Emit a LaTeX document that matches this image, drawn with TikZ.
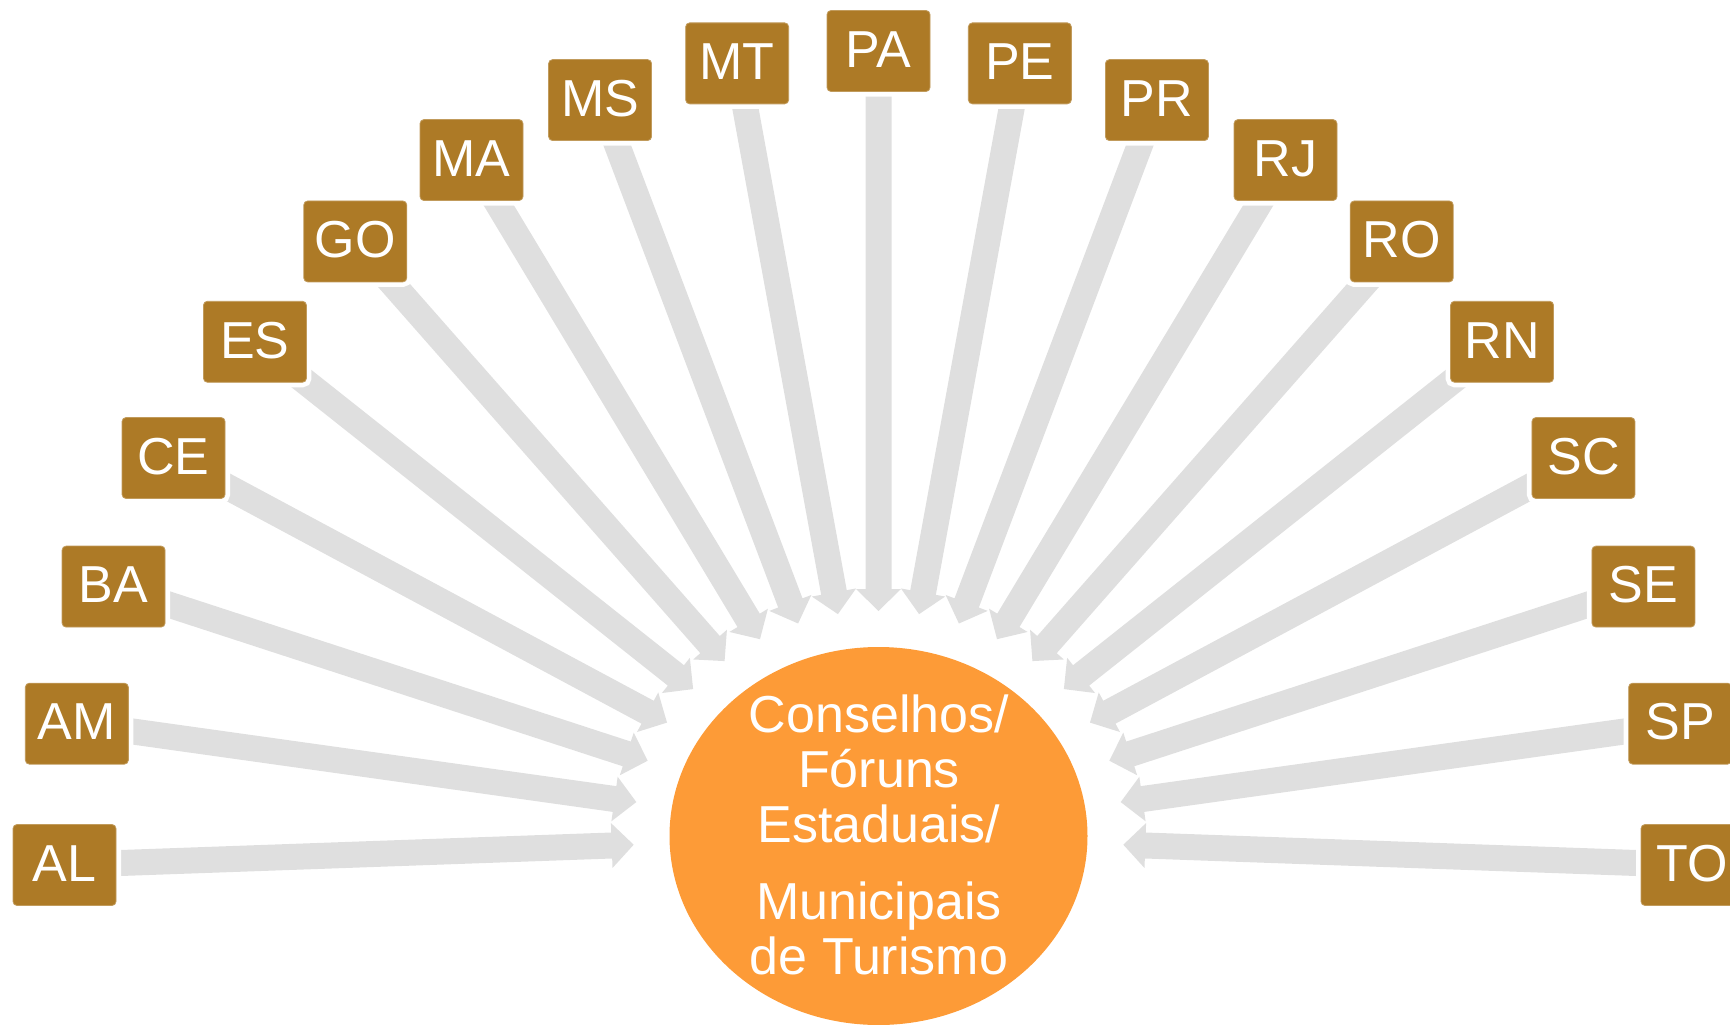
\documentclass[tikz,border=0pt]{standalone}
\usepackage{fontspec}
\setmainfont{Liberation Sans}
\usetikzlibrary{calc,shapes.geometric}
\pgfdeclarelayer{background}
\pgfsetlayers{background,main}
\definecolor{boxc}{RGB}{173,122,38}
\definecolor{orangec}{RGB}{253,155,55}
\definecolor{arrowc}{RGB}{223,223,223}
\tikzset{
  stbox/.style={rectangle, rounded corners=4pt, fill=boxc, draw=boxc!75!white, line width=0.8pt,
    preaction={draw=white, line width=10pt},
    minimum width=103pt, minimum height=81pt, inner sep=0pt, outer sep=0pt, text=white,
    font=\fontsize{52}{56}\selectfont, text height=37pt, text depth=4.5pt},
  hub/.style={ellipse, fill=orangec, minimum width=418pt, minimum height=378pt, inner sep=0pt, outer sep=0pt},
  hubtext/.style={text=white, font=\fontsize{52}{56}\selectfont, anchor=base, inner sep=0pt, outer sep=0pt},
  blockarrow/.style={fill=arrowc}
}
\begin{document}
\begin{tikzpicture}[x=1pt,y=-1pt]
\useasboundingbox (0,0) rectangle (1730,1025);
\coordinate (O) at (878.5,865);
\node[hub] (hub) at (878.5,836) {};
\node[hubtext] (t1) at (879,732.7) {Conselhos/};
\node[hubtext] (t2) at (879,787.7) {Fóruns};
\node[hubtext] (t3) at (879,842.7) {Estaduais/};
\node[hubtext] (t4) at (879,919.3) {Municipais};
\node[hubtext] (t5) at (879,974.3) {de Turismo};
\foreach \st/\ang in {AL/180,AM/170,BA/160,CE/150,ES/140,GO/130,MA/120,MS/110,MT/100,PA/90,PE/80,PR/70,RJ/60,RO/50,RN/40,SC/30,SE/20,SP/10,TO/0}{
  \node[stbox] (\st) at ($(O)+(\ang:814pt)$) {\st};
  \path (\st.center) -- (hub) coordinate[pos=1] (\st-e);
  \coordinate (\st-s) at (\st.center);
  \coordinate (\st-t) at ($(\st-e)!36pt!(\st-s)$);
  \coordinate (\st-h) at ($(\st-t)!22pt!(\st-s)$);
  \begin{pgfonlayer}{background}
  \fill[blockarrow] ($(\st-s)!13pt!90:(\st-t)$) -- ($(\st-h)!13pt!90:(\st-t)$)
     -- ($(\st-h)!22.5pt!90:(\st-t)$) -- (\st-t) -- ($(\st-h)!22.5pt!-90:(\st-t)$)
     -- ($(\st-h)!13pt!-90:(\st-t)$) -- ($(\st-s)!13pt!-90:(\st-t)$) -- cycle;
  \end{pgfonlayer}
}
\end{tikzpicture}
\end{document}
